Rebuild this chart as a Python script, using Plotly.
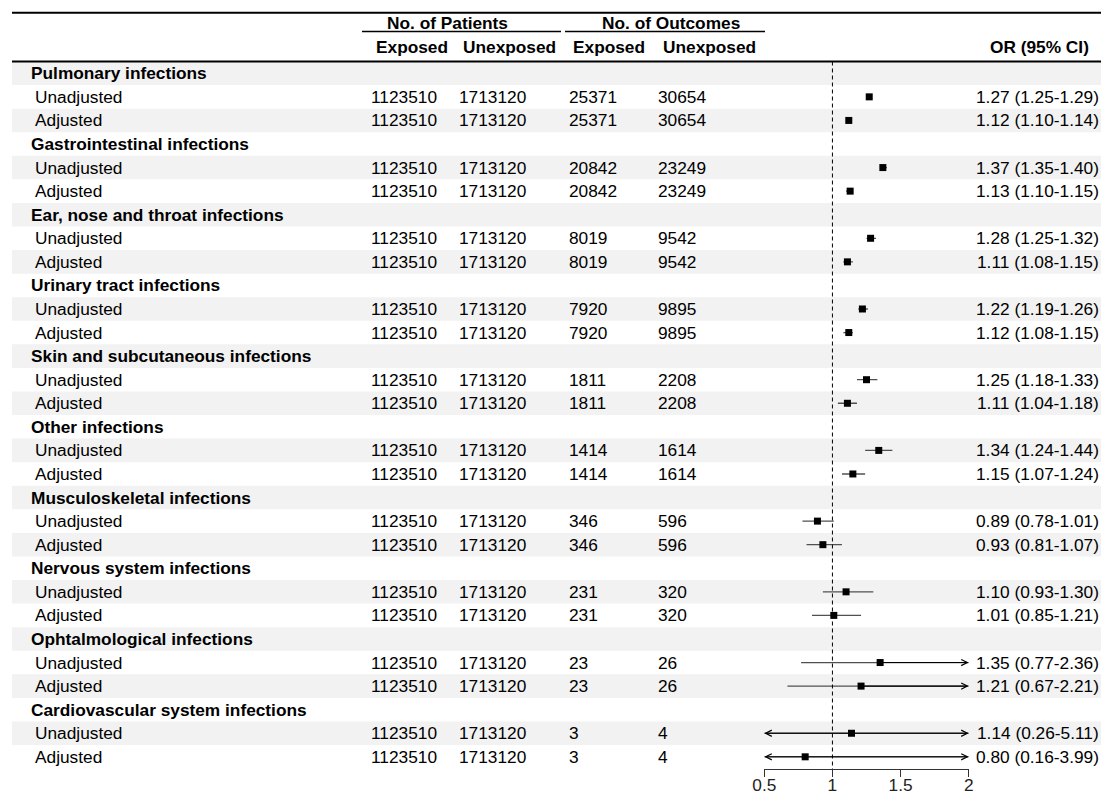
import plotly.graph_objects as go

# ---------------- data ----------------
groups = ["Pulmonary infections", "Gastrointestinal infections", "Ear, nose and throat infections",
          "Urinary tract infections", "Skin and subcutaneous infections", "Other infections",
          "Musculoskeletal infections", "Nervous system infections", "Ophtalmological infections",
          "Cardiovascular system infections"]
pat_exposed = [1123510] * 10
pat_unexposed = [1713120] * 10
out_exposed = [25371, 20842, 8019, 7920, 1811, 1414, 346, 231, 23, 3]
out_unexposed = [30654, 23249, 9542, 9895, 2208, 1614, 596, 320, 26, 4]
or_unadj = [1.27, 1.37, 1.28, 1.22, 1.25, 1.34, 0.89, 1.10, 1.35, 1.14]
lo_unadj = [1.25, 1.35, 1.25, 1.19, 1.18, 1.24, 0.78, 0.93, 0.77, 0.26]
hi_unadj = [1.29, 1.40, 1.32, 1.26, 1.33, 1.44, 1.01, 1.30, 2.36, 5.11]
or_adj = [1.12, 1.13, 1.11, 1.12, 1.11, 1.15, 0.93, 1.01, 1.21, 0.80]
lo_adj = [1.10, 1.10, 1.08, 1.08, 1.04, 1.07, 0.81, 0.85, 0.67, 0.16]
hi_adj = [1.14, 1.15, 1.15, 1.15, 1.18, 1.24, 1.07, 1.21, 2.21, 3.99]
sub_labels = ["Unadjusted", "Adjusted"]
x_ticks = [0.5, 1, 1.5, 2]
x_ticktext = ["0.5", "1", "1.5", "2"]
x_lim = [0.5, 2]

# ---------------- layout constants ----------------
W, H = 1101, 795
FONT = "Liberation Sans, Arial, sans-serif"
FS = 17.3
ROW_TOP = 61.5
ROW_H = 23.57
AXIS_PX = 769


def px2row(p):
    return (p - (ROW_TOP + ROW_H / 2)) / ROW_H


def xp(p):
    return p / W


annotations = []
shapes = []


def txt(x_px, y, s, bold=False, anchor="left", size=FS, color="#000000"):
    annotations.append(dict(
        x=xp(x_px), y=y, xref="paper", yref="y", text=("<b>%s</b>" % s) if bold else s,
        showarrow=False, xanchor=anchor, yanchor="middle", borderpad=0,
        font=dict(family=FONT, size=size, color=color)))


# build rows
rows = []  # (label, bold, pe, pu, oe, ou, or, lo, hi)
for g in range(len(groups)):
    rows.append((groups[g], True, None, None, None, None, None, None, None))
    rows.append((sub_labels[0], False, pat_exposed[g], pat_unexposed[g], out_exposed[g],
                 out_unexposed[g], or_unadj[g], lo_unadj[g], hi_unadj[g]))
    rows.append((sub_labels[1], False, pat_exposed[g], pat_unexposed[g], out_exposed[g],
                 out_unexposed[g], or_adj[g], lo_adj[g], hi_adj[g]))

n_rows = len(rows)

# shading
for i in range(0, n_rows, 2):
    shapes.append(dict(type="rect", xref="paper", yref="y", x0=xp(12), x1=1.0,
                       y0=i - 0.5, y1=i + 0.5, fillcolor="#f2f2f2", line=dict(width=0),
                       layer="below"))

# header lines
shapes.append(dict(type="line", xref="paper", yref="y", x0=xp(12), x1=1.0,
                   y0=px2row(12.7), y1=px2row(12.7), line=dict(color="#000", width=2)))
shapes.append(dict(type="line", xref="paper", yref="y", x0=xp(12), x1=1.0,
                   y0=px2row(61.5), y1=px2row(61.5), line=dict(color="#000", width=2)))
shapes.append(dict(type="line", xref="paper", yref="y", x0=xp(362), x1=xp(561),
                   y0=px2row(31.5), y1=px2row(31.5), line=dict(color="#000", width=1.5)))
shapes.append(dict(type="line", xref="paper", yref="y", x0=xp(565), x1=xp(765),
                   y0=px2row(31.5), y1=px2row(31.5), line=dict(color="#000", width=1.5)))

# header texts
y_h1 = px2row(22.5)
y_h2 = px2row(46.5)
txt(447.5, y_h1, "No. of Patients", bold=True, anchor="center")
txt(671, y_h1, "No. of Outcomes", bold=True, anchor="center")
txt(375, y_h2, "Exposed", bold=True)
txt(462, y_h2, "Unexposed", bold=True)
txt(572, y_h2, "Exposed", bold=True)
txt(662, y_h2, "Unexposed", bold=True)
txt(1039, y_h2, "OR (95% CI)", bold=True, anchor="center")

# rows text
for i, r in enumerate(rows):
    label, bold, pe, pu, oe, ou, orv, lo, hi = r
    if bold:
        txt(30, i, label, bold=True)
        continue
    txt(34, i, label)
    txt(370, i, str(pe))
    txt(458, i, str(pu))
    txt(568, i, str(oe))
    txt(657, i, str(ou))
    txt(1100, i, "%.2f (%.2f-%.2f)" % (orv, lo, hi), anchor="right")

# forest plot traces
ci_x, ci_y, pt_x, pt_y = [], [], [], []
for i, r in enumerate(rows):
    if r[1]:
        continue
    orv, lo, hi = r[6], r[7], r[8]
    lo_c = max(lo, x_lim[0])
    hi_c = min(hi, x_lim[1])
    ci_x += [lo_c, hi_c, None]
    ci_y += [i, i, None]
    pt_x.append(orv)
    pt_y.append(i)
    if hi > x_lim[1]:
        annotations.append(dict(x=x_lim[1], y=i, ax=orv, ay=i, xref="x", yref="y",
                                axref="x", ayref="y", text="", showarrow=True,
                                arrowhead=5, arrowsize=1.1, arrowwidth=1.1,
                                arrowcolor="#000000"))
    if lo < x_lim[0]:
        annotations.append(dict(x=x_lim[0], y=i, ax=orv, ay=i, xref="x", yref="y",
                                axref="x", ayref="y", text="", showarrow=True,
                                arrowhead=5, arrowsize=1.1, arrowwidth=1.1,
                                arrowcolor="#000000"))

fig = go.Figure()
fig.add_trace(go.Scatter(x=ci_x, y=ci_y, mode="lines", line=dict(color="#505050", width=1.3),
                         hoverinfo="skip", showlegend=False, cliponaxis=False))
fig.add_trace(go.Scatter(x=pt_x, y=pt_y, mode="markers",
                         marker=dict(symbol="square", size=7, color="#000000"),
                         showlegend=False, cliponaxis=False))

# reference dashed line at OR = 1
shapes.append(dict(type="line", xref="x", yref="y", x0=1, x1=1, y0=-0.5, y1=px2row(AXIS_PX),
                   line=dict(color="#000000", width=1, dash="4px,3px"), layer="above"))

y_top = px2row(0)
y_bot = px2row(AXIS_PX)

fig.update_layout(
    template="none",
    width=W, height=H, autosize=False,
    margin=dict(l=0, r=0, t=0, b=0, pad=0, autoexpand=False),
    paper_bgcolor="white", plot_bgcolor="rgba(0,0,0,0)",
    xaxis=dict(domain=[xp(764.3), xp(968.7)], range=x_lim, tickvals=x_ticks,
               ticktext=x_ticktext, showgrid=False, zeroline=False, showline=True,
               linecolor="#333333", linewidth=1, ticks="outside", ticklen=7,
               tickcolor="#333333", tickwidth=1, automargin=False, ticklabelstandoff=-7,
               tickfont=dict(family=FONT, size=FS, color="#222222"), fixedrange=True),
    yaxis=dict(domain=[(H - AXIS_PX) / H, 1], range=[y_bot, y_top], visible=False,
               showgrid=False, zeroline=False, fixedrange=True, automargin=False),
    shapes=shapes,
    annotations=annotations,
    showlegend=False,
)

fig.write_html(
    "out.html",
    config={"displayModeBar": False, "staticPlot": True},
    post_script="document.body.style.margin='0';"
                "document.documentElement.style.overflow='hidden';"
                "document.body.style.overflow='hidden';",
)
